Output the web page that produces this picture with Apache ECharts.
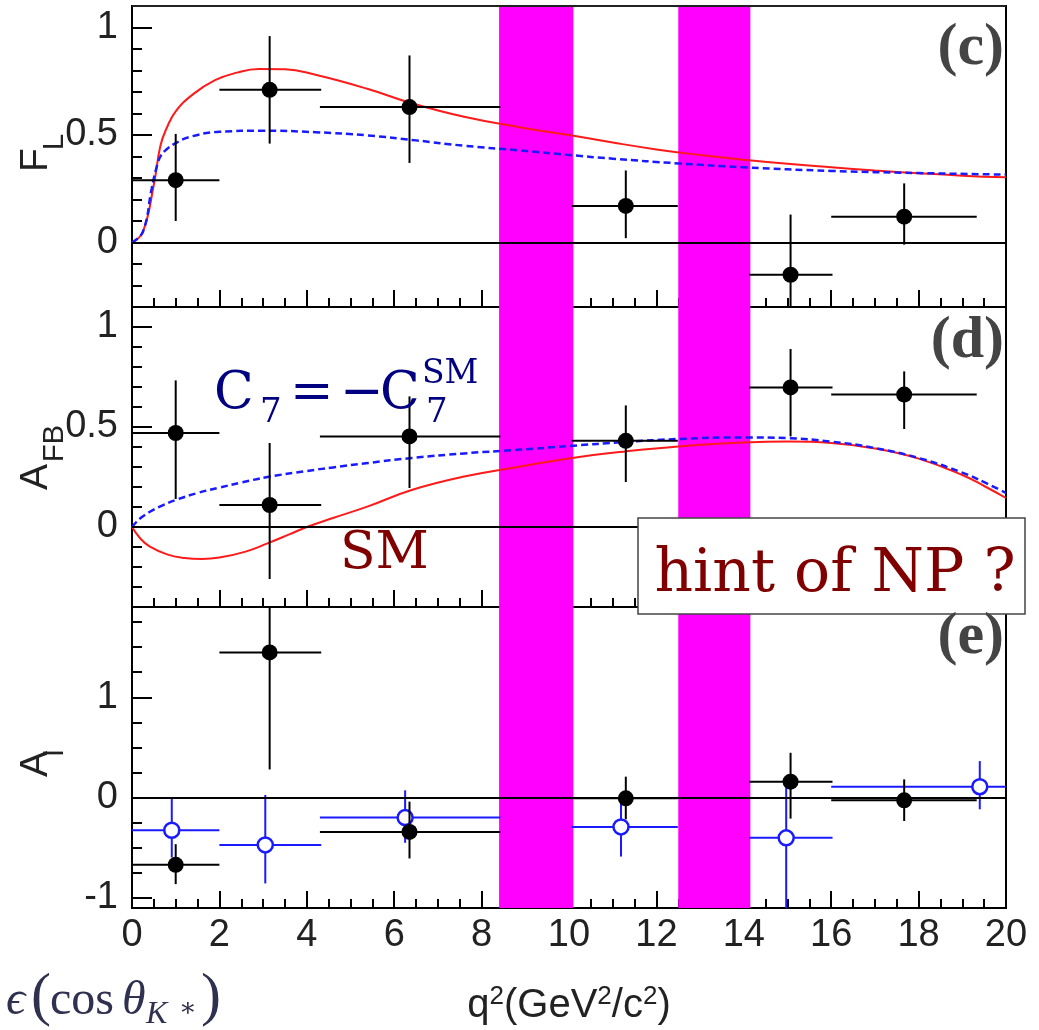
<!DOCTYPE html>
<html><head><meta charset="utf-8">
<script src="https://cdn.jsdelivr.net/npm/echarts@6/dist/echarts.min.js"></script>
<style>html,body{margin:0;padding:0;background:#fff}#c{width:1039px;height:1030px}</style>
</head><body><div id="c"></div>
<script>
// ---------------- data ----------------
const xTicks = [0, 2, 4, 6, 8, 10, 12, 14, 16, 18, 20];
const vetoBands = [[8.4, 10.1], [12.5, 14.15]];

// bins (black points)
const binX  = [1.0, 3.15, 6.35, 11.3, 15.07, 17.67];
const binLo = [0.0, 2.0, 4.3, 10.06, 14.12, 16.0];
const binHi = [2.0, 4.33, 8.43, 12.49, 16.03, 19.33];

// (c) F_L
const flVal = [0.29, 0.71, 0.63, 0.17, -0.15, 0.12];
const flLo  = [0.10, 0.46, 0.37, 0.02, -0.45, -0.01];
const flHi  = [0.505, 0.96, 0.87, 0.335, 0.13, 0.275];
const flSmX = [0, 0.25, 0.5, 0.65, 0.8, 1.0, 1.4, 1.9, 2.4, 2.9, 3.5, 4.2, 5.4, 6.4, 7.6, 8.9, 10, 11, 12, 13, 14, 15, 16, 17, 18, 19, 20];
const flSmY = [0, 0.05, 0.27, 0.45, 0.535, 0.61, 0.69, 0.755, 0.79, 0.807, 0.806, 0.78, 0.714, 0.648, 0.585, 0.535, 0.50, 0.465, 0.433, 0.407, 0.385, 0.366, 0.35, 0.335, 0.322, 0.311, 0.303];
const flNpX = [0, 0.25, 0.45, 0.55, 0.65, 0.8, 1.0, 1.3, 2.0, 3.0, 4.2, 5.4, 6.5, 7.6, 8.9, 10, 11, 12.5, 14, 16, 18, 20];
const flNpY = [0, 0.05, 0.25, 0.34, 0.40, 0.435, 0.462, 0.49, 0.515, 0.52, 0.513, 0.498, 0.475, 0.45, 0.428, 0.407, 0.39, 0.368, 0.35, 0.333, 0.323, 0.316];

// (d) A_FB
const afbVal = [0.47, 0.11, 0.453, 0.431, 0.698, 0.662];
const afbLo  = [0.14, -0.26, 0.195, 0.225, 0.453, 0.49];
const afbHi  = [0.733, 0.42, 0.653, 0.608, 0.89, 0.778];
const afbSmX = [0, 0.2, 0.4, 0.8, 1.2, 1.6, 2.0, 2.6, 3.1, 3.6, 4.0, 4.6, 5.4, 6.4, 7.6, 8.9, 10, 11.3, 12.5, 14, 15, 16, 17, 18, 19, 19.5, 20];
const afbSmY = [0, -0.06, -0.097, -0.137, -0.155, -0.16, -0.153, -0.123, -0.082, -0.037, 0, 0.045, 0.103, 0.185, 0.252, 0.303, 0.343, 0.378, 0.403, 0.422, 0.427, 0.42, 0.393, 0.342, 0.26, 0.205, 0.145];
const afbNpX = [0, 0.1, 0.2, 0.4, 0.7, 1.0, 1.5, 2.0, 2.5, 3.1, 4.0, 4.6, 5.4, 6.4, 7.6, 8.9, 10, 11.3, 12.5, 14, 15, 16, 17, 18, 19, 19.5, 20];
const afbNpY = [0, 0.025, 0.045, 0.075, 0.108, 0.135, 0.17, 0.197, 0.222, 0.25, 0.28, 0.298, 0.32, 0.345, 0.368, 0.387, 0.405, 0.425, 0.44, 0.448, 0.444, 0.427, 0.395, 0.345, 0.272, 0.224, 0.17];

// (e) A_I
const aiVal = [-0.67, 1.447, -0.342, -0.007, 0.159, -0.027];
const aiLo  = [-0.862, 0.281, -0.606, -0.216, -0.209, -0.233];
const aiHi  = [-0.464, 2.0, -0.04, 0.209, 0.447, 0.182];
const ai2X  = [0.91, 3.05, 6.25, 11.19, 14.97, 19.4];
const ai2XLo = [0.0, 2.0, 4.3, 10.06, 14.12, 16.0];
const ai2XHi = [2.0, 4.33, 8.43, 12.49, 16.03, 20.0];
const ai2Val = [-0.325, -0.471, -0.199, -0.292, -0.401, 0.109];
const ai2Lo  = [-0.596, -0.855, -0.45, -0.587, -1.3, -0.116];
const ai2Hi  = [0.0, 0.026, 0.073, -0.03, 0.1, 0.364];

// y-axis ranges & ticks
const yRanges = [[-0.3, 1.1], [-0.4, 1.1], [-1.1, 1.9]];
const yMajor = [[0, 0.5, 1], [0, 0.5, 1], [-1, 0, 1]];
const yMinor = [
  [-0.3, -0.2, -0.1, 0.1, 0.2, 0.3, 0.4, 0.6, 0.7, 0.8, 0.9],
  [-0.3, -0.2, -0.1, 0.1, 0.2, 0.3, 0.4, 0.6, 0.7, 0.8, 0.9],
  [-0.75, -0.5, -0.25, 0.25, 0.5, 0.75, 1.25, 1.5, 1.75]
];

// ---------------- build ----------------
const zip = (xs, ys) => xs.map((x, i) => [x, ys[i]]);
const rows = (x, xl, xh, y, yl, yh) => x.map((v, i) => [v, y[i], xl[i], xh[i], yl[i], yh[i]]);

function errRender(color, filled) {
  return function (params, api) {
    const x = api.value(0), y = api.value(1);
    const c = api.coord([x, y]);
    const pl = api.coord([api.value(2), y]), ph = api.coord([api.value(3), y]);
    const pb = api.coord([x, api.value(4)]), pt = api.coord([x, api.value(5)]);
    return {
      type: 'group',
      children: [
        { type: 'line', shape: { x1: pl[0], y1: c[1], x2: ph[0], y2: c[1] }, style: { stroke: color, lineWidth: 2 } },
        { type: 'line', shape: { x1: c[0], y1: pt[1], x2: c[0], y2: pb[1] }, style: { stroke: color, lineWidth: 2 } },
        { type: 'circle', shape: { cx: c[0], cy: c[1], r: filled ? 8 : 7.5 },
          style: filled ? { fill: color, stroke: null } : { fill: '#fff', stroke: color, lineWidth: 2.5 } }
      ]
    };
  };
}

const LBL_FONT = 'Liberation Sans';
const grid = [
  { left: 132, right: 33, top: 6, height: 301 },
  { left: 132, right: 33, top: 307, height: 300 },
  { left: 132, right: 33, top: 607, height: 301 }
].map(g => Object.assign(g, { show: true, borderColor: '#000', borderWidth: 2, backgroundColor: 'transparent' }));

const xAxis = [0, 1, 2].map(i => ({
  type: 'value', gridIndex: i, min: 0, max: 20, interval: 2,
  axisLine: { onZero: false, lineStyle: { color: '#000', width: 2 } },
  axisTick: { inside: true, length: 17, lineStyle: { color: '#000', width: 2 } },
  minorTick: { show: true, splitNumber: 4, length: 9, lineStyle: { color: '#000', width: 2 } },
  splitLine: { show: false }, minorSplitLine: { show: false },
  axisLabel: { show: i === 2, margin: 9, fontSize: 38, fontFamily: LBL_FONT, color: '#222',
    customValues: xTicks }
}));

const yAxis = [];
[0, 1, 2].forEach(i => {
  yAxis.push({
    type: 'value', gridIndex: i, position: 'left', min: yRanges[i][0], max: yRanges[i][1],
    axisLine: { onZero: false, lineStyle: { color: '#000', width: 2 } },
    axisTick: { inside: true, length: 20, lineStyle: { color: '#000', width: 2 }, customValues: yMajor[i] },
    axisLabel: { margin: 14, fontSize: 38, fontFamily: LBL_FONT, color: '#222', customValues: yMajor[i],
      formatter: v => String(v) },
    splitLine: { show: false }
  });
  yAxis.push({
    type: 'value', gridIndex: i, position: 'left', offset: 0, min: yRanges[i][0], max: yRanges[i][1],
    axisLine: { show: false },
    axisTick: { inside: true, length: 10, lineStyle: { color: '#000', width: 2 }, customValues: yMinor[i] },
    axisLabel: { show: false, customValues: yMinor[i] },
    splitLine: { show: false }
  });
});

const series = [];
[0, 1, 2].forEach(i => {
  series.push({
    type: 'line', xAxisIndex: i, yAxisIndex: 2 * i, data: [], z: 1, silent: true,
    markArea: { silent: true, itemStyle: { color: '#ff00ff', opacity: 1 },
      data: vetoBands.map(b => [{ xAxis: b[0] }, { xAxis: b[1] }]) }
  });
  series.push({
    type: 'line', xAxisIndex: i, yAxisIndex: 2 * i, data: [], z: 2, silent: true,
    markLine: { silent: true, symbol: 'none', label: { show: false },
      lineStyle: { color: '#000', type: 'solid', width: 2 }, data: [{ yAxis: 0 }] }
  });
});

function curve(i, data, color, dashed) {
  return { type: 'line', xAxisIndex: i, yAxisIndex: 2 * i, data, z: 3, showSymbol: false, smooth: 0.45,
    silent: true,
    lineStyle: { color, width: dashed ? 2.5 : 2, type: dashed ? [7, 4] : 'solid' } };
}
series.push(curve(0, zip(flSmX, flSmY), '#ff1a1a', false));
series.push(curve(0, zip(flNpX, flNpY), '#1a1aff', true));
series.push(curve(1, zip(afbSmX, afbSmY), '#ff1a1a', false));
series.push(curve(1, zip(afbNpX, afbNpY), '#1a1aff', true));

function errSeries(i, data, color, filled) {
  return { type: 'custom', xAxisIndex: i, yAxisIndex: 2 * i, data, z: 4, clip: true, silent: true,
    encode: { x: 0, y: 1 }, renderItem: errRender(color, filled) };
}
series.push(errSeries(0, rows(binX, binLo, binHi, flVal, flLo, flHi), '#000', true));
series.push(errSeries(1, rows(binX, binLo, binHi, afbVal, afbLo, afbHi), '#000', true));
series.push(errSeries(2, rows(ai2X, ai2XLo, ai2XHi, ai2Val, ai2Lo, ai2Hi), '#1a1aff', false));
series.push(errSeries(2, rows(binX, binLo, binHi, aiVal, aiLo, aiHi), '#000', true));

// ---------------- texts ----------------
const SERIF = 'DejaVu Serif';
const TIMES = 'Liberation Serif';
function T(x, y, text, size, color, extra) {
  return Object.assign({ type: 'text', x, y, z: 100, silent: true,
    style: Object.assign({ text, fontSize: size, fontFamily: SERIF, fill: color, align: 'left', verticalAlign: 'middle' }, extra || {}) });
}
function R(x, y, text, size) { // rotated axis name pieces
  return { type: 'text', x, y, z: 100, rotation: Math.PI / 2, silent: true,
    style: { text, fontSize: size, fontFamily: LBL_FONT, fill: '#222', align: 'left', verticalAlign: 'middle' } };
}
const navy = '#000080', dred = '#800000', eps = '#303050';
const graphic = [
  // top frame line of the upper pad (drawn above the veto bands)
  { type: 'rect', z: 98, silent: true, shape: { x: 132, y: 5, width: 874, height: 2 }, style: { fill: '#222' } },
  // axis names
  R(36, 172, 'F', 39), R(55, 150, 'L', 29),
  R(36, 490, 'A', 39), R(55, 462, 'FB', 29),
  R(36, 777, 'A', 39), R(55, 757, 'I', 29),
  // panel labels
  T(1004, 48, '(c)', 60, '#444', { align: 'right', fontFamily: TIMES, fontWeight: 'bold' }),
  T(1004, 341, '(d)', 60, '#444', { align: 'right', fontFamily: TIMES, fontWeight: 'bold' }),
  T(1004, 637, '(e)', 60, '#444', { align: 'right', fontFamily: TIMES, fontWeight: 'bold' }),
  // C7 = -C7^SM
  T(214, 394, 'C', 52, navy), T(260, 413, '7', 34, navy),
  T(290, 394, '=', 52, navy), T(340, 394, '\u2212', 52, navy), T(380, 394, 'C', 52, navy),
  T(426, 413, '7', 34, navy), T(422, 374, 'SM', 33, navy),
  // SM
  T(340, 554, 'SM', 52, dred),
  // hint box
  { type: 'rect', z: 99, silent: true, shape: { x: 638, y: 518, width: 387, height: 96 },
    style: { fill: '#fff', stroke: '#444', lineWidth: 1.5 } },
  T(835, 575, 'hint of NP ?', 60, dred, { align: 'center' }),
  // x title
  { type: 'text', x: 569, y: 984, z: 100, silent: true,
    style: { text: '{a|q}{s|2}{a|(GeV}{s|2}{a|/c}{s|2}{a|)}', align: 'center', verticalAlign: 'top',
      rich: { a: { fontSize: 40, fontFamily: LBL_FONT, fill: '#222', lineHeight: 44 },
              s: { fontSize: 26, fontFamily: LBL_FONT, fill: '#222', lineHeight: 24, verticalAlign: 'top' } } } },
  // epsilon(cos theta_K*)
  T(6, 1001, '\u03F5', 48, eps, { fontStyle: 'italic', fontFamily: TIMES }),
  T(31, 998, '(', 60, eps, { fontFamily: TIMES }),
  T(50, 1001, 'cos', 48, eps, { fontFamily: TIMES }),
  T(122, 1001, '\u03B8', 48, eps, { fontStyle: 'italic', fontFamily: TIMES }),
  T(146, 1015, 'K', 32, eps, { fontStyle: 'italic', fontFamily: TIMES }),
  T(179, 1009, '\u2217', 26, eps, { fontFamily: SERIF }),
  T(201, 998, ')', 60, eps, { fontFamily: TIMES })
];

const chart = echarts.init(document.getElementById('c'), null, { renderer: 'canvas', width: 1039, height: 1030 });
chart.setOption({ animation: false, backgroundColor: '#fff', grid, xAxis, yAxis, series, graphic });
</script></body></html>
